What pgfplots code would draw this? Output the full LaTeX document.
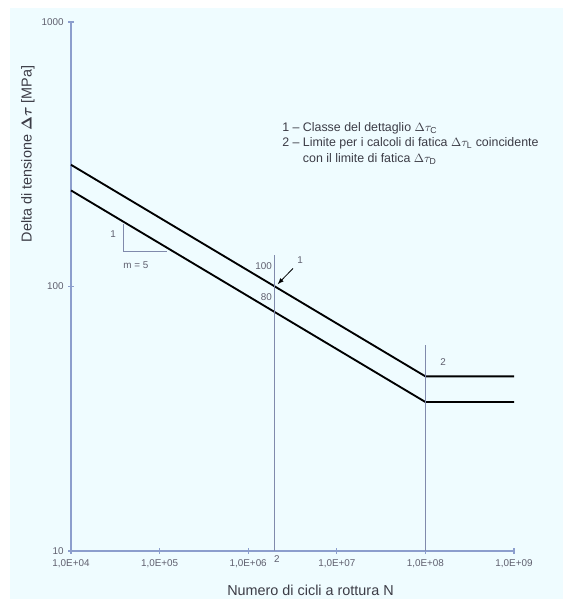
\documentclass[border=0pt]{standalone}
\usepackage{fontspec}
\setmainfont{Liberation Sans}
\usepackage{amsmath}
\usepackage{pgfplots}
\pgfplotsset{compat=1.18}
\definecolor{bg}{RGB}{239,252,255}
\definecolor{axc}{RGB}{140,158,205}
\definecolor{vl}{RGB}{128,138,172}
\definecolor{txt}{RGB}{60,60,70}
\definecolor{tk}{RGB}{95,95,110}
\begin{document}
\begin{tikzpicture}[x=0.75pt,y=0.75pt]
\path[use as bounding box] (0,0) rectangle (563,599);
\fill[white] (0,0) rectangle (563,599);
\fill[bg] (10,0) rectangle (563,591);
\begin{axis}[
  at={(53.25pt,36pt)}, anchor=south west,
  width=332.25pt, height=396.75pt, scale only axis,
  xmode=log, ymode=log,
  xmin=1e4, xmax=1e9, ymin=10, ymax=1000,
  axis lines*=left,
  axis line style={axc, line width=1.2pt},
  xtick={1e4,1e5,1e6,1e7,1e8,1e9},
  xticklabels={{1,0E+04},{1,0E+05},{1,0E+06},{1,0E+07},{1,0E+08},{1,0E+09}},
  ytick={10,100,1000},
  yticklabels={10,100,1000},
  xminorticks=false, yminorticks=false,
  minor tick length=0pt,
  tick align=center, major tick length=4pt,
  tick style={axc, line width=0.8pt},
  ticklabel style={font=\fontsize{7.4}{8}\selectfont, text=tk},
  xticklabel style={yshift=-1pt},
  /pgf/number format/assume math mode=true,
  clip=false,
]
\addplot[black, line width=1.4pt] coordinates {(1e4,288.5) (1e8,45.73) (1e9,45.73)};
\addplot[black, line width=1.4pt] coordinates {(1e4,230.8) (1e8,36.58) (1e9,36.58)};
\addplot[vl, line width=0.9pt] coordinates {(2e6,10) (2e6,131)};
\addplot[vl, line width=0.9pt] coordinates {(1e8,10) (1e8,60)};
\addplot[vl, line width=0.8pt] coordinates {(3.87e4,173) (3.87e4,136) (1.22e5,136)};
\node[font=\fontsize{7.4}{8}\selectfont, text=tk] at (axis cs:2.98e4,158) {1};
\node[font=\fontsize{7.4}{8}\selectfont, text=tk] at (axis cs:5.4e4,120) {m = 5};
\node[font=\fontsize{7.4}{8}\selectfont, text=tk, anchor=east, inner sep=0pt] at (axis cs:1.86e6,119) {100};
\node[font=\fontsize{7.4}{8}\selectfont, text=tk, anchor=east, inner sep=0pt] at (axis cs:1.86e6,91) {80};
\draw[-latex, black, line width=0.6pt] (axis cs:3.2e6,117) -- (axis cs:2.15e6,102);
\node[font=\fontsize{7.4}{8}\selectfont, text=tk] at (axis cs:3.85e6,125.4) {1};
\node[font=\fontsize{7.4}{8}\selectfont, text=tk] at (axis cs:1.58e8,51.6) {2};
\node[font=\fontsize{7.4}{8}\selectfont, text=tk, anchor=north, inner sep=0pt] at (axis cs:2.1e6,10) [yshift=-3pt] {2};
\end{axis}
\node[rotate=90, font=\fontsize{10.8}{12}\selectfont, text=txt] at (28,445) {Delta di tensione $\boldsymbol{\Delta\tau}$ [MPa]};
\node[font=\fontsize{10.8}{12}\selectfont, text=txt] at (310.5,9) {Numero di cicli a rottura N};
\node[anchor=north west, inner sep=0pt, align=left, font=\fontsize{9.3}{11.6}\selectfont, text=txt] at (282,477)
 {1 -- Classe del dettaglio $\Delta\tau_{\mathrm{C}}$\\
  2 -- Limite per i calcoli di fatica $\Delta\tau_{\mathrm{L}}$ coincidente\\
  \hphantom{2 -- }con il limite di fatica $\Delta\tau_{\mathrm{D}}$};
\end{tikzpicture}
\end{document}
